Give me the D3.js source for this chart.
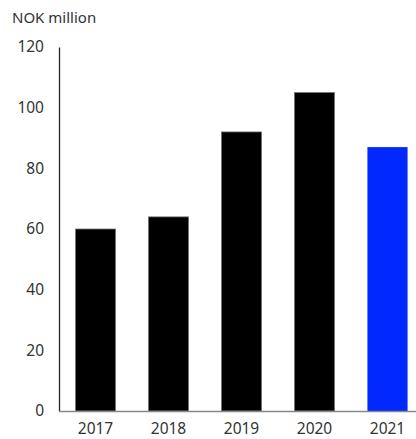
<!DOCTYPE html>
<html>
<head>
<meta charset="utf-8">
<script src="https://cdn.jsdelivr.net/npm/d3@7"></script>
<style>
  html, body { margin: 0; padding: 0; background: #fff; }
  svg text { font-family: "Noto Sans", "Open Sans", sans-serif; fill: #333; }
</style>
</head>
<body>
<svg id="chart" width="416" height="439"></svg>
<script>
// Annual values, NOK million
const years = ["2017", "2018", "2019", "2020", "2021"];
const values = [60, 64, 92, 105, 87];
const barColors = ["#000000", "#000000", "#000000", "#000000", "#0028ff"];
const yTicks = [0, 20, 40, 60, 80, 100, 120];
const unitLabel = "NOK million";

const svg = d3.select("#chart");
const plot = { left: 59, right: 424, top: 47, bottom: 411 };

const x = d3.scaleBand()
  .domain(years)
  .range([plot.left, plot.right])
  .paddingInner(0.45)
  .paddingOuter(0.225);

const y = d3.scaleLinear()
  .domain([0, 120])
  .range([plot.bottom, plot.top]);

// unit title
svg.append("text")
  .attr("x", 12)
  .attr("y", 23)
  .attr("font-size", 15)
  .text(unitLabel);

// bars
svg.append("g")
  .selectAll("rect")
  .data(values)
  .join("rect")
  .attr("x", (d, i) => x(years[i]))
  .attr("y", d => y(d))
  .attr("width", x.bandwidth())
  .attr("height", d => y(0) - y(d))
  .attr("fill", (d, i) => barColors[i])
  .attr("stroke", (d, i) => i < 4 ? "#777" : "none")
  .attr("stroke-width", 0.8);

// y axis
const yAxis = svg.append("g")
  .attr("transform", `translate(${plot.left},0)`)
  .call(d3.axisLeft(y).tickValues(yTicks).tickSize(0).tickPadding(15));
yAxis.select(".domain").attr("stroke", "#222").attr("stroke-width", 1.3);
yAxis.selectAll("text").attr("font-size", 15.5).attr("fill", "#333");

// x axis
const xAxis = svg.append("g")
  .attr("transform", `translate(0,${plot.bottom})`)
  .call(d3.axisBottom(x).tickSize(0).tickPadding(12));
xAxis.select(".domain").attr("stroke", "#888").attr("stroke-width", 1.3)
  .attr("d", `M${plot.left},0.5H416`);
xAxis.selectAll("text").attr("font-size", 15.5).attr("fill", "#333");
</script>
</body>
</html>
